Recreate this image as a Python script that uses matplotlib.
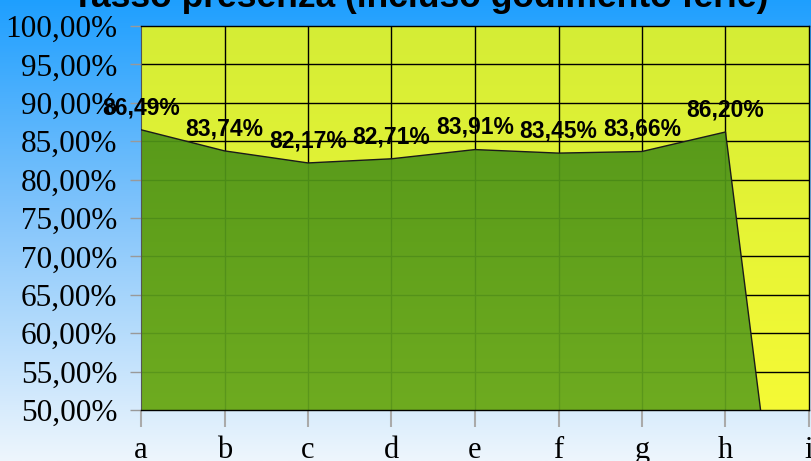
import numpy as np
import matplotlib
matplotlib.use("Agg")
import matplotlib.pyplot as plt
from matplotlib.colors import LinearSegmentedColormap
from matplotlib.ticker import FuncFormatter

categories = ["a", "b", "c", "d", "e", "f", "g", "h", "i"]
presenza = [86.49, 83.74, 82.17, 82.71, 83.91, 83.45, 83.66, 86.20, 0.0]
title = "Tasso presenza (incluso godimento ferie)"

SERIF = ["Liberation Serif", "DejaVu Serif"]
SANS = ["Liberation Sans", "DejaVu Sans"]

fig = plt.figure(figsize=(8.12, 4.61), dpi=100)

# figure background gradient (blue at top -> pale at bottom)
bg = fig.add_axes([0, 0, 1, 1], zorder=-10)
bg_cmap = LinearSegmentedColormap.from_list(
    "bg", [(0.0, "#1e9fff"), (0.45, "#7fc3fb"), (1.0, "#eef6fd")])
bg.imshow(np.linspace(0, 1, 256).reshape(-1, 1), cmap=bg_cmap,
          aspect="auto", extent=[0, 1, 0, 1])
bg.set_axis_off()

ax = fig.add_axes([141 / 812, 51 / 461, 668 / 812, 384 / 461])
x = np.arange(len(categories))
ax.set_xlim(0, len(categories) - 1)
ax.set_ylim(50, 100)

# plot area gradient
area_cmap = LinearSegmentedColormap.from_list("area", ["#f5fa36", "#d5ed35"])
ax.imshow(np.linspace(0, 1, 256).reshape(-1, 1), cmap=area_cmap, origin="lower",
          aspect="auto", extent=[0, 8, 50, 100], zorder=0)

# grid
for xi in x[1:-1]:
    ax.axvline(xi, color="black", lw=1, zorder=1)
for yv in range(55, 100, 5):
    ax.axhline(yv, color="black", lw=1, zorder=1)

# filled area with a slight vertical gradient
poly = ax.fill_between(x, 0, presenza, color="none", zorder=2)
fill_cmap = LinearSegmentedColormap.from_list("fill", ["#64a51f", "#4e9418"])
img = ax.imshow(np.linspace(0, 1, 256).reshape(-1, 1), cmap=fill_cmap, origin="lower",
                aspect="auto", extent=[0, 8, 50, 87], zorder=2, alpha=0.93)
img.set_clip_path(poly.get_paths()[0], transform=ax.transData)
ax.plot(x, presenza, color="#1a1a1a", lw=1, zorder=3, clip_on=True)

# data labels
for xi, v in zip(x, presenza):
    if v < 50:
        continue
    ax.annotate(f"{v:.2f}%".replace(".", ","), (xi, v), xytext=(0, 16),
                textcoords="offset points", ha="center", va="center",
                fontsize=16.5, fontweight="bold", family=SANS, zorder=5,
                annotation_clip=False)

ax.set_xticks(x)
ax.set_xticklabels(categories, family=SERIF, fontsize=22)
ax.set_yticks(range(50, 101, 5))
ax.yaxis.set_major_formatter(FuncFormatter(lambda v, _: f"{v:.2f}%".replace(".", ",")))
for lab in ax.get_yticklabels():
    lab.set_family(SERIF)
    lab.set_fontsize(22.5)
ax.tick_params(axis="y", length=8, width=1, color="#999999", pad=9)
ax.tick_params(axis="x", length=12, width=1.5, color="#aaaaaa", pad=7)

for side in ["top", "right", "bottom"]:
    ax.spines[side].set_color("black")
    ax.spines[side].set_linewidth(1)
ax.spines["left"].set_color("#555555")
ax.spines["bottom"].set_zorder(6)

fig.text(0.518, 0.984, title, ha="center", va="baseline", fontsize=25.5,
         fontweight="bold", family=SANS)

fig.savefig("out.png", dpi=100)
